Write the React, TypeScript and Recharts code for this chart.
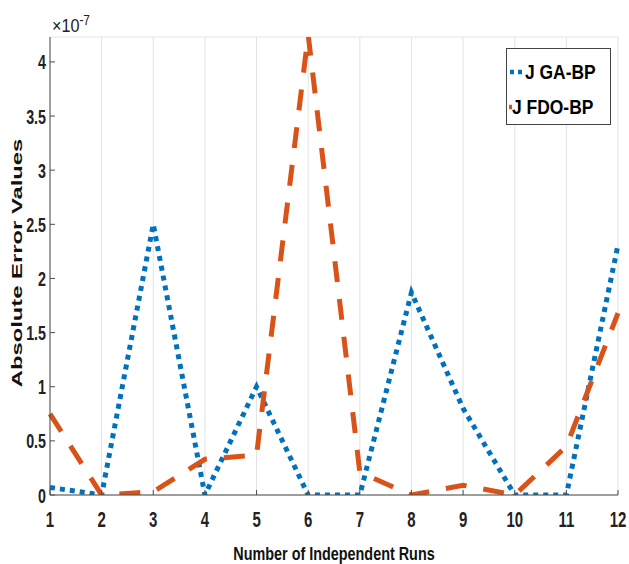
import { LineChart, Line, XAxis, YAxis, CartesianGrid } from "recharts";

const runs = [1, 2, 3, 4, 5, 6, 7, 8, 9, 10, 11, 12];
// values in units of 1e-7
const gaBp = [0.07, 0.0, 2.5, 0.0, 1.0, 0.0, 0.0, 1.87, 0.8, 0.0, 0.0, 2.31];
const fdoBp = [0.75, 0.0, 0.03, 0.33, 0.37, 4.25, 0.21, 0.0, 0.09, 0.0, 0.45, 1.68];
const yTicks = [0, 0.5, 1, 1.5, 2, 2.5, 3, 3.5, 4];

const data = runs.map((r, i) => ({ run: r, ga: gaBp[i], fdo: fdoBp[i] }));

const BLUE = "#0072BD";
const ORANGE = "#D95319";
const AXIS = "#4d4d4d";
const FONT = "'Liberation Sans', Arial, sans-serif";

// condensed bold tick labels (matlab export looks squeezed)
function XTick(props: any) {
  const { x, y, payload } = props;
  return (
    <g transform={`translate(${x},${y}) scale(0.68,1)`}>
      <text textAnchor="middle" dy={27} fontSize={22} fontWeight={700} fill="#222" fontFamily={FONT}>
        {payload.value}
      </text>
    </g>
  );
}

function YTick(props: any) {
  const { x, y, payload } = props;
  return (
    <g transform={`translate(${x},${y}) scale(0.68,1)`}>
      <text textAnchor="end" dy={7.5} fontSize={21} fontWeight={700} fill="#222" fontFamily={FONT}>
        {payload.value}
      </text>
    </g>
  );
}

function XTitle() {
  return (
    <g transform="translate(334,560) scale(0.8,1)">
      <text textAnchor="middle" fontSize={18} fontWeight={700} fill="#111" fontFamily={FONT}>
        Number of Independent Runs
      </text>
    </g>
  );
}

function YTitle() {
  return (
    <g transform="translate(22,263) rotate(-90) scale(1.7,1)">
      <text textAnchor="middle" fontSize={14} fontWeight={700} fill="#111" fontFamily={FONT}>
        Absolute Error Values
      </text>
    </g>
  );
}

function LegendBox() {
  const row = { display: "flex", alignItems: "center", height: 35, whiteSpace: "nowrap" as const };
  const txt = { display: "inline-block", transform: "scaleX(0.83)", transformOrigin: "left center" };
  return (
    <div
      style={{
        position: "absolute",
        left: 506,
        top: 48,
        width: 105,
        height: 77,
        boxSizing: "border-box",
        border: "1px solid #444",
        background: "#fff",
        fontFamily: FONT,
        fontWeight: 700,
        fontSize: 21,
        color: "#000",
        padding: "5px 0 0 1px",
      }}
    >
      <div style={row}>
        <svg width={19} height={10}>
          <line x1={2} y1={5} x2={14} y2={5} stroke={BLUE} strokeWidth={4.5} strokeDasharray="4 4" />
        </svg>
        <span style={txt}>J GA-BP</span>
      </div>
      <div style={row}>
        <svg width={19} height={10}>
          <line x1={1} y1={5} x2={17} y2={5} stroke={ORANGE} strokeWidth={4.5} />
        </svg>
        <span style={txt}>J FDO-BP</span>
      </div>
    </div>
  );
}

export default function App() {
  return (
    <div style={{ position: "absolute", left: 0, top: 0, width: 629, height: 564, background: "#fff" }}>
      <LineChart width={629} height={564} data={data} margin={{ top: 37, right: 11, bottom: 0, left: 0 }}>
        <CartesianGrid stroke="#e3e3e3" strokeWidth={1} />
        <XAxis
          xAxisId="b"
          dataKey="run"
          type="number"
          domain={[1, 12]}
          ticks={runs}
          height={69}
          stroke={AXIS}
          tickSize={-5}
          tickMargin={10}
          tick={<XTick />}
          label={{ content: () => <XTitle /> }}
        />
        <XAxis
          xAxisId="t"
          orientation="top"
          dataKey="run"
          type="number"
          domain={[1, 12]}
          ticks={runs}
          height={0}
          stroke={AXIS}
          tickSize={-5}
          tickFormatter={() => ""}
        />
        <YAxis
          yAxisId="l"
          type="number"
          domain={[0, 4.23]}
          allowDataOverflow
          ticks={yTicks}
          width={50}
          stroke={AXIS}
          tickSize={-5}
          tickMargin={9}
          tick={<YTick />}
          label={{ content: () => <YTitle /> }}
        />
        <YAxis
          yAxisId="r"
          orientation="right"
          type="number"
          domain={[0, 4.23]}
          ticks={yTicks}
          width={0}
          stroke={AXIS}
          tickSize={-5}
          tickFormatter={() => ""}
        />
        <Line
          xAxisId="b"
          yAxisId="l"
          type="linear"
          dataKey="ga"
          stroke={BLUE}
          strokeWidth={5}
          strokeDasharray="5 5"
          dot={false}
          isAnimationActive={false}
        />
        <Line
          xAxisId="b"
          yAxisId="l"
          type="linear"
          dataKey="fdo"
          stroke={ORANGE}
          strokeWidth={5}
          strokeDasharray="21 17"
          dot={false}
          isAnimationActive={false}
        />
      </LineChart>
      <LegendBox />
      <div
        style={{
          position: "absolute",
          left: 52,
          top: 8,
          fontFamily: FONT,
          fontSize: 19,
          color: "#222",
          lineHeight: "24px",
          transform: "scaleX(0.85)",
          transformOrigin: "left center",
        }}
      >
        ×10<sup style={{ fontSize: 14, verticalAlign: 7 }}>-7</sup>
      </div>
    </div>
  );
}
